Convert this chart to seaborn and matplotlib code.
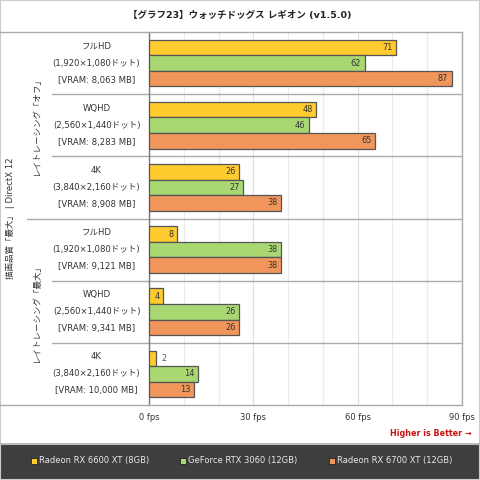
import matplotlib
matplotlib.use("Agg")
import matplotlib.pyplot as plt
import seaborn as sns
import pandas as pd
from matplotlib.patches import Rectangle
from matplotlib.lines import Line2D

# ----------------------------- Data -----------------------------
TITLE = "【グラフ23】ウォッチドッグス レギオン (v1.5.0)"
resolutions = ["フルHD", "WQHD", "4K", "フルHD", "WQHD", "4K"]
pixels = ["(1,920×1,080ドット)", "(2,560×1,440ドット)", "(3,840×2,160ドット)",
          "(1,920×1,080ドット)", "(2,560×1,440ドット)", "(3,840×2,160ドット)"]
vram = ["8,063", "8,283", "8,908", "9,121", "9,341", "10,000"]
gpus = ["Radeon RX 6600 XT (8GB)", "GeForce RTX 3060 (12GB)", "Radeon RX 6700 XT (12GB)"]
rx6600xt = [71, 48, 26, 8, 4, 2]
rtx3060 = [62, 46, 27, 38, 26, 14]
rx6700xt = [87, 65, 38, 38, 26, 13]
rt_sections = ["レイトレーシング「オフ」", "レイトレーシング「最大」"]
side_label = "描画品質「最大」 | DirectX 12"
x_ticks = [0, 30, 60, 90]

colors = ["#FFCB2F", "#A9D873", "#F0965A"]

# ----------------------------- Build frame -----------------------------
labels = [f"{r}\n{p}\n[VRAM: {v} MB]" for r, p, v in zip(resolutions, pixels, vram)]
rows = []
for gpu, vals in zip(gpus, [rx6600xt, rtx3060, rx6700xt]):
    for lab, v in zip(labels, vals):
        rows.append({"label": lab, "fps": v, "gpu": gpu})
df = pd.DataFrame(rows)

# ----------------------------- Plot -----------------------------
sns.set_style("white")
plt.rcParams["font.family"] = ["DejaVu Sans", "Noto Sans CJK JP"]

W, H = 480, 480
fig = plt.figure(figsize=(4.8, 4.8), dpi=100)
fig.patch.set_facecolor("white")

ax_l, ax_r, ax_t, ax_b = 149, 462, 32, 405
ax = fig.add_axes([ax_l / W, 1 - ax_b / H, (ax_r - ax_l) / W, (ax_b - ax_t) / H])

sns.barplot(data=df, y="label", x="fps", hue="gpu", hue_order=gpus, order=labels,
            palette=colors, orient="h", width=0.75, edgecolor="#555555",
            linewidth=0.9, saturation=1, legend=False, ax=ax, zorder=3)

ax.set_xlim(0, 90)
ax.set_ylim(len(labels) - 0.5, -0.5)
ax.set_xlabel("")
ax.set_ylabel("")

# grid
ax.set_xticks(x_ticks)
ax.set_xticks(range(0, 91, 10), minor=True)
ax.grid(which="minor", axis="x", color="#ebebeb", linewidth=0.9, zorder=0)
ax.grid(which="major", axis="x", color="#e0e0e0", linewidth=0.9, zorder=0)
ax.set_xticklabels([f"{t} fps" for t in x_ticks], fontsize=6.0, color="#333333")
ax.tick_params(axis="x", which="major", direction="out", length=3, width=0.9,
               color="#777777", pad=2.5)
ax.tick_params(axis="x", which="minor", length=0)

# y labels
ax.set_yticks(range(len(labels)))
ax.set_yticklabels(labels, fontsize=6.1, color="#333333", ha="center", va="center",
                   multialignment="center", linespacing=2.15)
ax.tick_params(axis="y", length=0, pad=(ax_l - 96.5) * 0.72)

for s in ["top", "bottom"]:
    ax.spines[s].set_visible(False)
ax.spines["left"].set_color("#777777")
ax.spines["left"].set_linewidth(1.0)
ax.spines["right"].set_color("#aaaaaa")
ax.spines["right"].set_linewidth(1.0)

# value labels
for cont in ax.containers:
    for p in cont.patches:
        w = p.get_width()
        yc = p.get_y() + p.get_height() / 2
        if w < 3:
            ax.text(w + 1.5, yc, f"{w:.0f}", ha="left", va="center",
                    fontsize=5.9, color="#555555", zorder=4)
        else:
            ax.text(w - 1.0, yc, f"{w:.0f}", ha="right", va="center",
                    fontsize=5.9, color="#333333", zorder=4)

# group separators
tr = ax.get_yaxis_transform()
for yy in [0.5, 1.5, 3.5, 4.5]:
    ax.plot([(52 - ax_l) / (ax_r - ax_l), 1], [yy, yy], transform=tr,
            color="#aaaaaa", lw=1.0, clip_on=False, zorder=2)
ax.plot([(27 - ax_l) / (ax_r - ax_l), 1], [2.5, 2.5], transform=tr,
        color="#aaaaaa", lw=1.0, clip_on=False, zorder=2)

# top / bottom frame lines
for yy in [ax_t, ax_b]:
    fig.add_artist(Line2D([0, ax_r / W], [1 - yy / H, 1 - yy / H],
                          color="#aaaaaa", lw=1.0))

# section labels
for i, txt in enumerate(rt_sections):
    yc = 1 - (ax_t + (ax_b - ax_t) * (0.25 + 0.5 * i)) / H
    fig.text(37 / W, yc, txt, rotation=90, ha="center", va="center",
             fontsize=6.1, color="#333333")
fig.text(10 / W, 1 - ((ax_t + ax_b) / 2) / H, side_label, rotation=90,
         ha="center", va="center", fontsize=6.1, color="#333333")

# title
fig.text(0.5, 1 - 15 / H, TITLE, ha="center", va="center", fontsize=6.8,
         fontweight="bold", color="#222222")

# higher is better
fig.text(472 / W, 1 - 433 / H, "Higher is Better →", ha="right", va="center",
         fontsize=5.8, fontweight="bold", color="#cc1111")

# legend band
fig.add_artist(Rectangle((0, 0), 1, 36 / H, facecolor="#3e3e3e",
                         edgecolor="none", transform=fig.transFigure))
fig.add_artist(Line2D([0, 1], [36 / H, 36 / H], color="#bbbbbb", lw=1.5))
leg_x = [34, 183, 332]
for x0, gpu, c in zip(leg_x, gpus, colors):
    fig.add_artist(Rectangle(((x0 - 3) / W, (19 - 3) / H), 6 / W, 6 / H,
                             facecolor=c, edgecolor="#222222", lw=0.6,
                             transform=fig.transFigure))
    fig.text((x0 + 5) / W, 20 / H, gpu, ha="left", va="center",
             fontsize=6.0, color="#e8e8e8")

# outer border
fig.add_artist(Rectangle((0, 0), 1, 1, fill=False, edgecolor="#cccccc",
                         lw=1.5, transform=fig.transFigure))

fig.savefig("out.png", dpi=100)
